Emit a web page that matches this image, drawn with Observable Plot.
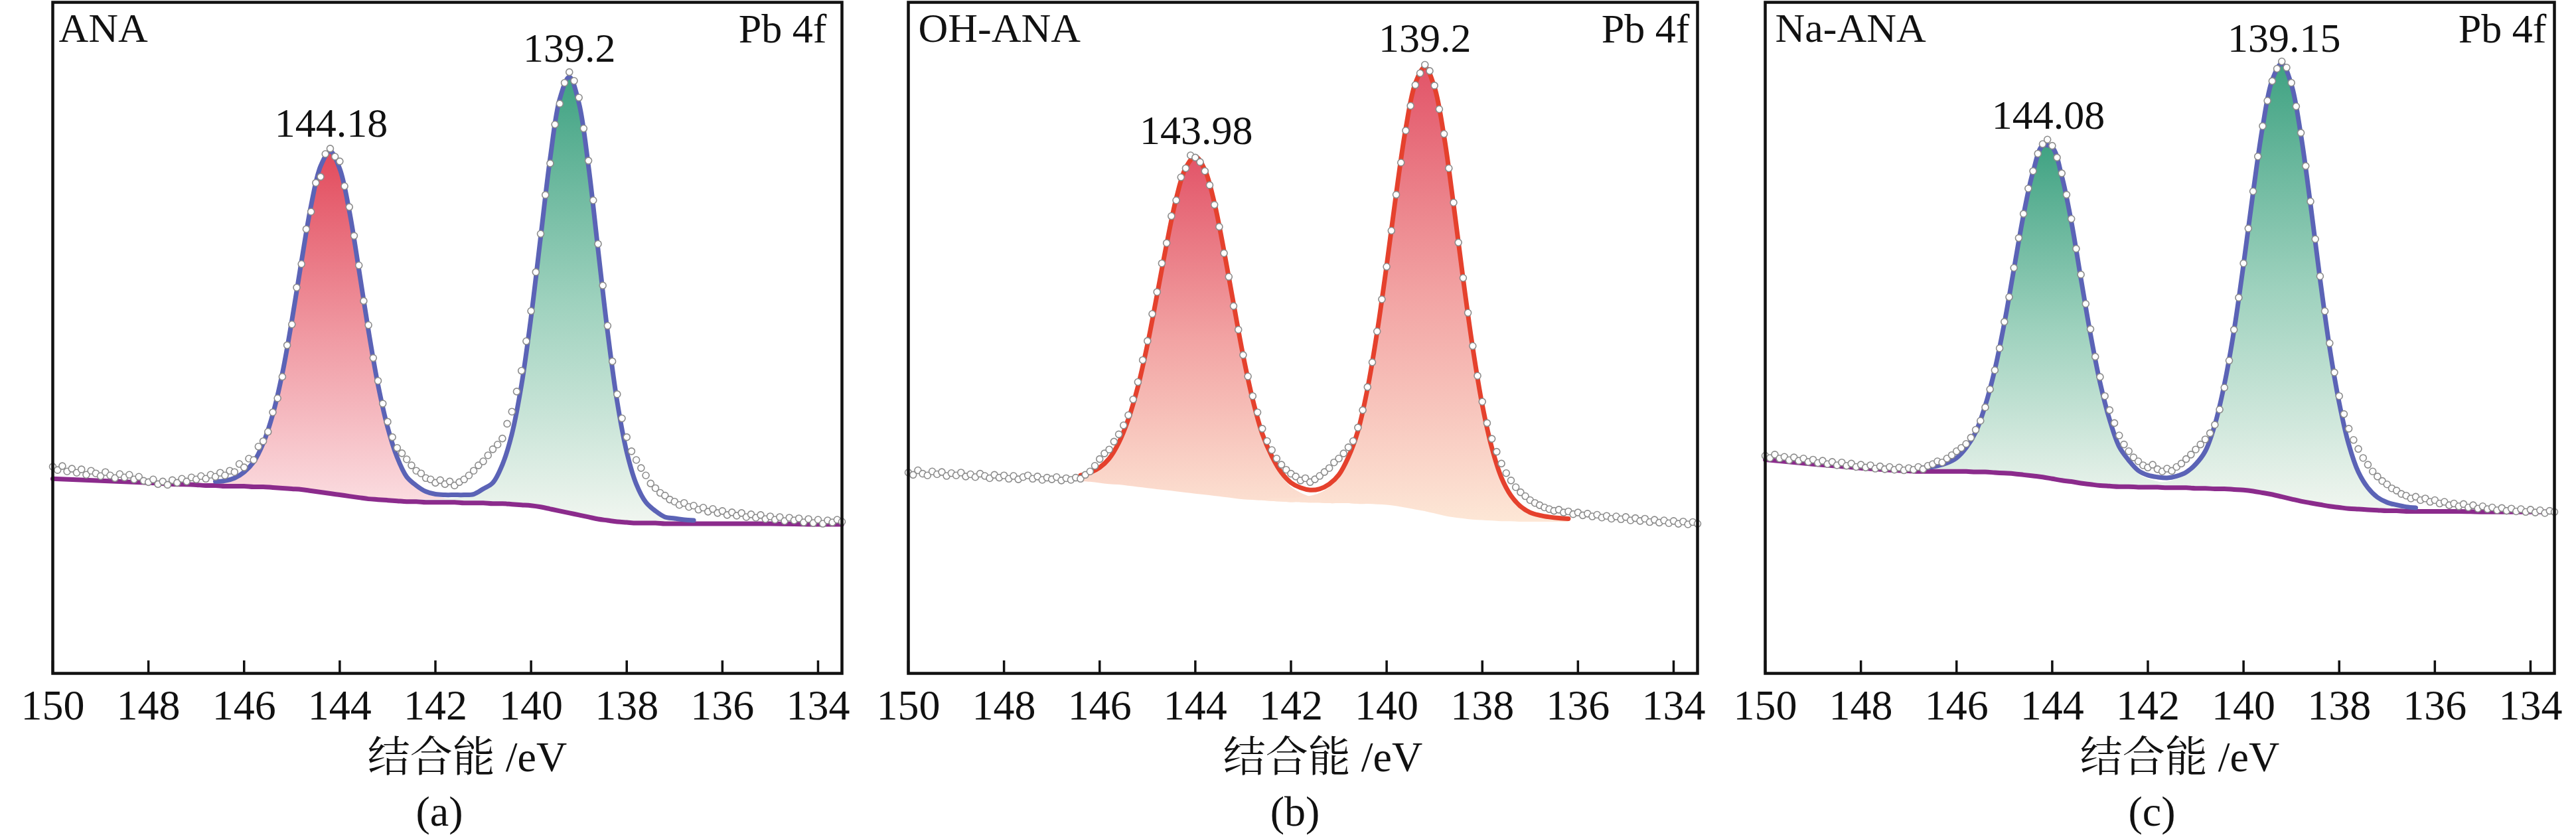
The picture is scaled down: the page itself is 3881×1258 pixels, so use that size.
<!DOCTYPE html>
<html><head><meta charset="utf-8">
<script src="https://cdn.jsdelivr.net/npm/d3@7"></script>
<script src="https://cdn.jsdelivr.net/npm/@observablehq/plot@0.6"></script>
<style>
html,body{margin:0;padding:0;background:#fff;}
#row{display:flex;flex-direction:row;width:3881px;height:1258px;overflow:hidden;}
#row svg{display:block;flex:none;}
</style></head><body><div id="row"></div>
<script>
// ---------- axis ticks / texts ----------
const xTicks = [150, 148, 146, 144, 142, 140, 138, 136, 134];
const axisTitle = "结合能 /eV";
const lineLabel = "Pb 4f";
const sampleNames = ["ANA", "OH-ANA", "Na-ANA"];
const captions = ["(a)", "(b)", "(c)"];
const peakLabelsA = ["144.18", "139.2"];
const peakLabelsB = ["143.98", "139.2"];
const peakLabelsC = ["144.08", "139.15"];
const peakTopsA = [78.0, 89.2];
const peakTopsB = [72.5, 88.9];
const peakTopsC = [75.2, 88.9];

// ---------- fit grid (binding energy, eV) ----------
const energyGrid = [
  150, 149, 148, 147.5,
  147.0, 146.8, 146.6, 146.4, 146.2, 146.0, 145.8, 145.6, 145.4, 145.2,
  145.0, 144.8, 144.6, 144.4, 144.2, 144.0, 143.8, 143.6, 143.4, 143.2,
  143.0, 142.8, 142.6, 142.4, 142.2, 142.0, 141.8, 141.6, 141.4, 141.2,
  141.0, 140.8, 140.6, 140.4, 140.2, 140.0, 139.8, 139.6, 139.4, 139.2,
  139.0, 138.8, 138.6, 138.4, 138.2, 138.0, 137.8, 137.6, 137.4, 137.2,
  137.0, 136.8, 136.6, 136.4, 136.2, 136.0,
  135.5, 135, 134, 133.5
];

// background (Shirley) and fitted components, panel (a)
const bgA = [
  29.0, 28.7, 28.4, 28.2,
  28.1, 28.0, 28.0, 27.9, 27.9, 27.9, 27.8, 27.8, 27.7, 27.6,
  27.5, 27.4, 27.2, 27.0, 26.8, 26.6, 26.4, 26.2, 26.0, 25.9,
  25.8, 25.7, 25.6, 25.6, 25.5, 25.5, 25.5, 25.5, 25.4, 25.4,
  25.4, 25.3, 25.3, 25.2, 25.1, 25.0, 24.8, 24.5, 24.2, 23.9,
  23.6, 23.3, 23.0, 22.8, 22.6, 22.5, 22.4, 22.4, 22.4, 22.3,
  22.3, 22.3, 22.3, 22.3, 22.3, 22.3,
  22.3, 22.3, 22.2, 22.2
];
const peakA1 = [
  0, 0, 0, 0,
  0.4, 0.5, 0.6, 0.8, 1.2, 2.1, 3.7, 6.5, 10.9, 17.1,
  25.1, 34.0, 42.5, 48.6, 51.0, 48.6, 42.5, 34.0, 25.1, 17.1,
  10.9, 6.5, 3.7, 2.1, 1.2, 0.8, 0.6, 0.5, 0.4, 0.3,
  0.3, 0, 0, 0, 0, 0, 0, 0, 0, 0,
  0, 0, 0, 0, 0, 0, 0, 0, 0, 0,
  0, 0, 0, 0, 0, 0,
  0, 0, 0, 0
];
const peakA2 = [
  0, 0, 0, 0,
  0, 0, 0, 0, 0, 0, 0, 0, 0, 0,
  0, 0, 0, 0, 0, 0, 0, 0, 0, 0,
  0, 0, 0, 0.3, 0.4, 0.4, 0.5, 0.6, 0.8, 1.0,
  1.8, 3.1, 5.8, 10.5, 17.9, 28.1, 40.2, 52.3, 61.4, 65.0,
  61.4, 52.3, 40.2, 28.1, 17.9, 10.5, 5.8, 3.1, 1.8, 1.0,
  0.8, 0.6, 0.5, 0.4, 0.4, 0.3,
  0, 0, 0, 0
];

// panel (b)
const bgB = [
  16.0, 15.7, 15.4, 15.2,
  15.0, 14.95, 14.9, 14.8, 14.7, 14.5, 14.3, 14.2, 14.0, 13.8,
  13.6, 13.4, 13.2, 13.0, 12.8, 12.6, 12.4, 12.2, 12.0, 11.8,
  11.6, 11.5, 11.4, 11.3, 11.2, 11.1, 11.1, 11.0, 11.0, 10.9,
  10.9, 10.9, 10.8, 10.8, 10.7, 10.6, 10.4, 10.1, 9.8, 9.5,
  9.1, 8.7, 8.4, 8.2, 8.0, 7.9, 7.8, 7.7, 7.7, 7.6,
  7.6, 7.6, 7.6, 7.6, 7.6, 7.6,
  7.5, 7.5, 7.4, 7.4
];
const peakB1 = [
  0, 0, 0, 0,
  0.5, 0.65, 0.8, 1.1, 1.7, 2.8, 4.6, 7.5, 11.9, 17.9,
  25.6, 34.6, 43.8, 52.1, 57.8, 60.0, 57.8, 52.1, 43.8, 34.6,
  25.6, 17.9, 11.9, 7.5, 4.6, 2.8, 1.7, 1.1, 0.8, 0.65,
  0.5, 0.45, 0, 0, 0, 0, 0, 0, 0, 0,
  0, 0, 0, 0, 0, 0, 0, 0, 0, 0,
  0, 0, 0, 0, 0, 0,
  0, 0, 0, 0
];
const peakB2 = [
  0, 0, 0, 0,
  0, 0, 0, 0, 0, 0, 0, 0, 0, 0,
  0, 0, 0, 0, 0, 0, 0, 0, 0, 0,
  0, 0, 0, 0.5, 0.6, 0.7, 0.9, 1.2, 1.7, 2.8,
  4.6, 7.8, 13.0, 20.5, 30.6, 42.6, 55.6, 67.5, 75.8, 79.0,
  75.8, 67.5, 55.6, 42.6, 30.6, 20.5, 13.0, 7.8, 4.6, 2.8,
  1.7, 1.2, 0.9, 0.7, 0.6, 0.5,
  0, 0, 0, 0
];

// panel (c)
const bgC = [
  18.7, 17.9, 17.2, 16.9,
  16.7, 16.6, 16.6, 16.6, 16.6, 16.6, 16.6, 16.5, 16.5, 16.4,
  16.3, 16.2, 16.0, 15.8, 15.6, 15.3, 15.0, 14.8, 14.5, 14.3,
  14.1, 14.0, 13.9, 13.9, 13.8, 13.8, 13.8, 13.7, 13.7, 13.7,
  13.6, 13.6, 13.5, 13.5, 13.4, 13.3, 13.1, 12.8, 12.5, 12.1,
  11.7, 11.3, 11.0, 10.7, 10.4, 10.2, 10.0, 9.9, 9.8, 9.7,
  9.6, 9.6, 9.5, 9.5, 9.5, 9.5,
  9.5, 9.4, 9.4, 9.4
];
const peakC1 = [
  0, 0, 0, 0,
  0.46, 0.57, 0.7, 1.0, 1.5, 2.4, 4.2, 7.1, 11.8, 18.3,
  26.7, 36.4, 46.2, 54.1, 58.9, 58.9, 54.1, 46.2, 36.4, 26.7,
  18.3, 11.8, 7.1, 4.2, 2.4, 1.5, 1.0, 0.7, 0.57, 0.46,
  0.4, 0, 0, 0, 0, 0, 0, 0, 0, 0,
  0, 0, 0, 0, 0, 0, 0, 0, 0, 0,
  0, 0, 0, 0, 0, 0,
  0, 0, 0, 0
];
const peakC2 = [
  0, 0, 0, 0,
  0, 0, 0, 0, 0, 0, 0, 0, 0, 0,
  0, 0, 0, 0, 0, 0, 0, 0, 0, 0,
  0, 0, 0, 0.48, 0.55, 0.64, 0.8, 1.05, 1.5, 2.3,
  3.9, 6.6, 11.4, 18.6, 28.2, 40.1, 53.1, 65.1, 73.7, 77.0,
  73.7, 65.1, 53.1, 40.1, 28.2, 18.6, 11.4, 6.6, 3.9, 2.3,
  1.5, 1.05, 0.8, 0.64, 0.55, 0.48,
  0, 0, 0, 0
];

// ---------- measured spectra (open circles) ----------
const dotEnergy = [
  150, 149.9, 149.8, 149.7, 149.6, 149.5, 149.4, 149.3, 149.2, 149.1,
  149, 148.9, 148.8, 148.7, 148.6, 148.5, 148.4, 148.3, 148.2, 148.1,
  148, 147.9, 147.8, 147.7, 147.6, 147.5, 147.4, 147.3, 147.2, 147.1,
  147, 146.9, 146.8, 146.7, 146.6, 146.5, 146.4, 146.3, 146.2, 146.1,
  146, 145.9, 145.8, 145.7, 145.6, 145.5, 145.4, 145.3, 145.2, 145.1,
  145, 144.9, 144.8, 144.7, 144.6, 144.5, 144.4, 144.3, 144.2, 144.1,
  144, 143.9, 143.8, 143.7, 143.6, 143.5, 143.4, 143.3, 143.2, 143.1,
  143, 142.9, 142.8, 142.7, 142.6, 142.5, 142.4, 142.3, 142.2, 142.1,
  142, 141.9, 141.8, 141.7, 141.6, 141.5, 141.4, 141.3, 141.2, 141.1,
  141, 140.9, 140.8, 140.7, 140.6, 140.5, 140.4, 140.3, 140.2, 140.1,
  140, 139.9, 139.8, 139.7, 139.6, 139.5, 139.4, 139.3, 139.2, 139.1,
  139, 138.9, 138.8, 138.7, 138.6, 138.5, 138.4, 138.3, 138.2, 138.1,
  138, 137.9, 137.8, 137.7, 137.6, 137.5, 137.4, 137.3, 137.2, 137.1,
  137, 136.9, 136.8, 136.7, 136.6, 136.5, 136.4, 136.3, 136.2, 136.1,
  136, 135.9, 135.8, 135.7, 135.6, 135.5, 135.4, 135.3, 135.2, 135.1,
  135, 134.9, 134.8, 134.7, 134.6, 134.5, 134.4, 134.3, 134.2, 134.1,
  134, 133.9, 133.8, 133.7, 133.6, 133.5
];
const dotsA = [
  30.8, 30.3, 30.9, 30.1, 30.5, 29.9, 30.4, 29.6, 30.2, 29.8,
  29.4, 30.0, 29.5, 29.1, 29.7, 29.2, 29.6, 28.9, 29.3, 28.7,
  28.5, 28.9, 28.2, 28.6, 28.1, 28.8, 28.4, 29.0, 28.6, 29.2,
  28.9, 29.4, 29.0, 29.6, 29.3, 29.9, 29.5, 30.2, 30.0, 31.2,
  30.7, 32.0, 31.8, 33.8, 34.6, 36.0, 38.9, 41.0, 44.2, 48.9,
  52.0, 57.5, 61.0, 66.2, 68.8, 73.1, 74.0, 77.4, 78.2, 77.0,
  76.3, 72.6, 69.5, 65.2, 60.8, 55.5, 51.9, 47.0, 43.6, 40.2,
  37.5, 35.2, 33.6, 32.8, 31.9, 31.0, 30.2, 29.8, 29.1, 28.9,
  28.4, 28.8, 28.2, 28.6, 28.0, 28.5, 28.9, 29.5, 30.2, 31.0,
  31.6, 32.5, 33.4, 34.1, 35.0, 37.2, 39.0, 42.0, 45.1, 49.5,
  54.0, 59.8, 65.5, 71.3, 76.0, 81.8, 84.9, 88.0, 89.6, 88.3,
  85.8, 81.2, 76.4, 70.5, 64.0, 57.8, 51.8, 46.5, 41.6, 38.0,
  35.2, 33.1, 31.8, 30.6, 29.5, 28.3, 27.6, 26.9, 26.5, 25.9,
  25.6, 25.1, 25.4, 24.8, 25.0, 24.4, 24.7, 24.1, 24.5, 23.9,
  24.2, 23.6, 24.0, 23.5, 23.9, 23.3, 23.7, 23.2, 23.6, 23.0,
  23.4, 22.9, 23.3, 22.7, 23.2, 22.8, 23.1, 22.5, 23.0, 22.4,
  22.9, 22.3, 22.8, 22.5, 22.9, 22.6
];
const dotsB = [
  16.4, 16.0, 16.8, 16.2, 15.9, 16.6, 16.1, 16.5, 15.8, 16.3,
  15.9, 16.4, 15.7, 16.1, 15.6, 16.2, 15.8, 15.4, 16.0, 15.5,
  15.9, 15.3, 15.8, 15.2, 15.6, 15.9, 15.3, 15.7, 15.1, 15.5,
  15.2, 15.6, 15.0, 15.4, 15.1, 15.5, 15.3, 16.0, 16.6, 17.6,
  18.8, 19.8, 20.5, 21.9, 23.2, 24.8, 26.6, 29.4, 32.5, 36.4,
  39.8, 44.6, 48.5, 53.6, 57.2, 62.0, 64.8, 68.9, 70.5, 72.8,
  72.4, 71.6, 70.0, 67.5, 64.0, 60.1, 55.4, 51.2, 46.0, 41.8,
  37.3, 33.5, 30.0, 27.1, 24.2, 22.0, 20.4, 18.9, 17.8, 16.9,
  16.2, 15.7, 15.0, 15.4, 14.7, 15.2, 15.8, 16.5, 17.2, 18.2,
  18.9, 19.8, 20.9, 22.0, 24.4, 27.5, 31.6, 36.0, 41.5, 47.2,
  53.0, 59.4, 65.8, 71.5, 77.2, 81.6, 85.3, 87.4, 88.9, 87.8,
  85.2, 81.0, 76.6, 70.5, 64.4, 57.3, 51.0, 44.8, 38.9, 33.6,
  29.0, 25.2, 22.4, 20.1, 18.0, 16.3, 15.0, 13.8, 12.9, 12.2,
  11.5, 11.0, 10.6, 10.2, 9.9, 9.6, 9.8, 9.3, 9.5, 9.0,
  9.3, 8.8, 9.1, 8.6, 8.9, 8.4, 8.7, 8.2, 8.6, 8.1,
  8.5, 7.9, 8.3, 7.8, 8.2, 7.6, 8.0, 7.5, 7.9, 7.4,
  7.8, 7.3, 7.7, 7.2, 7.6, 7.3
];
const dotsC = [
  19.4, 19.0, 19.6, 18.9, 19.2, 18.6, 19.1, 18.5, 18.9, 18.3,
  18.7, 18.1, 18.5, 17.9, 18.3, 17.7, 18.2, 17.6, 18.0, 17.4,
  17.8, 17.3, 17.7, 17.1, 17.5, 17.0, 17.4, 16.9, 17.3, 16.8,
  17.2, 16.9, 17.4, 17.0, 17.6, 17.9, 18.4, 18.2, 18.9, 19.5,
  20.2, 20.8, 21.5, 22.6, 24.0, 25.6, 28.0, 31.2, 34.6, 38.5,
  43.2, 47.6, 52.8, 58.1, 62.4, 66.9, 70.0, 73.1, 74.8, 75.6,
  74.5, 72.4, 69.6, 65.8, 61.5, 56.2, 51.6, 46.4, 41.9, 37.0,
  33.4, 30.0, 27.5, 25.2, 23.0, 21.4, 20.2, 19.1, 18.4, 17.7,
  17.3, 17.8, 17.0, 16.6, 17.1, 16.7, 17.4, 18.0, 18.8, 19.6,
  20.5, 21.4, 22.3, 23.4, 24.9, 27.6, 31.5, 36.3, 41.8, 47.5,
  53.6, 59.8, 66.4, 72.6, 78.0, 82.5, 86.0, 88.2, 89.5, 88.4,
  85.7, 81.5, 76.8, 70.9, 64.6, 57.9, 51.3, 45.1, 39.4, 34.2,
  30.0, 26.8, 24.2, 22.2, 20.6, 19.0, 17.8, 16.6, 15.7, 14.9,
  14.3, 13.6, 13.2, 12.6, 12.3, 11.8, 12.1, 11.5, 11.8, 11.2,
  11.5, 10.9, 11.2, 10.6, 10.9, 10.4, 10.8, 10.2, 10.6, 10.0,
  10.4, 9.9, 10.2, 9.7, 10.1, 9.6, 10.0, 9.5, 9.9, 9.4,
  9.8, 9.3, 9.7, 9.2, 9.6, 9.4
];

// ---------- styles ----------
const FONT = "'Liberation Serif','Times New Roman','Noto Serif CJK SC','Noto Sans CJK SC',serif";
const GRAD_RED = [[0, "#E24A5C"], [0.5, "#F09AA3"], [1, "#FCE5E8"]];
const GRAD_GREEN = [[0, "#3FA282"], [0.5, "#9DD1BD"], [1, "#F1F6F0"]];
const GRAD_PEACH = [[0, "#E25468"], [0.5, "#F2A3A3"], [1, "#FDE7D6"]];

// each panel keeps its own arbitrary-unit intensity scale
const panels = [
  {id: "pa", width: 1318, ml: 79, mr: 50, yDomain: [0, 100], bg: bgA, p1: peakA1, p2: peakA2, dots: dotsA,
   labels: peakLabelsA, tops: peakTopsA, fit: [146.6, 136.6], env: "#5B63B6", bgLine: true,
   g1: GRAD_RED, g2: GRAD_GREEN, name: sampleNames[0], nameDx: 9, pbDx: -23, cap: captions[0]},
  {id: "pb", width: 1289, ml: 50, mr: 50, yDomain: [-19.3, 100], bg: bgB, p1: peakB1, p2: peakB2, dots: dotsB,
   labels: peakLabelsB, tops: peakTopsB, fit: [146.4, 136.2], env: "#E5412D", bgLine: false,
   g1: GRAD_PEACH, g2: GRAD_PEACH, name: sampleNames[1], nameDx: 15, pbDx: -12, cap: captions[1]},
  {id: "pc", width: 1274, ml: 52, mr: 33, yDomain: [-19.3, 100], bg: bgC, p1: peakC1, p2: peakC2, dots: dotsC,
   labels: peakLabelsC, tops: peakTopsC, fit: [146.8, 136.4], env: "#5B63B6", bgLine: true,
   g1: GRAD_GREEN, g2: GRAD_GREEN, name: sampleNames[2], nameDx: 15, pbDx: -12, cap: captions[2]}
];

function addGradient(svg, id, stops) {
  const s = d3.select(svg);
  let defs = s.select("defs");
  if (defs.empty()) defs = s.insert("defs", ":first-child");
  const g = defs.append("linearGradient").attr("id", id)
    .attr("x1", 0).attr("y1", 0).attr("x2", 0).attr("y2", 1);
  stops.forEach(([o, c]) => g.append("stop").attr("offset", o).attr("stop-color", c));
}

function makePanel(p) {
  const grid = energyGrid.map((e, i) => ({
    e, bg: p.bg[i], top1: p.bg[i] + p.p1[i], top2: p.bg[i] + p.p2[i],
    env: p.bg[i] + p.p1[i] + p.p2[i]
  }));
  const fit = grid.filter(d => d.e <= p.fit[0] && d.e >= p.fit[1]);
  const dots = dotEnergy.map((e, i) => ({e, v: p.dots[i]}));
  const labels = p.labels.map((t, i) => ({e: +t, v: p.tops[i], t}));
  const svg = Plot.plot({
    width: p.width, height: 1258,
    marginLeft: p.ml, marginRight: p.mr, marginTop: 3, marginBottom: 244,
    x: {domain: [150, 133.5], label: null},
    y: {domain: p.yDomain, axis: null},
    style: {fontFamily: FONT, fontSize: "64px", color: "#111", background: "#fff", overflow: "visible"},
    marks: [
      Plot.areaY(fit, {x: "e", y1: "bg", y2: "top1", fill: `url(#${p.id}g1)`, curve: "catmull-rom"}),
      Plot.areaY(fit, {x: "e", y1: "bg", y2: "top2", fill: `url(#${p.id}g2)`, curve: "catmull-rom"}),
      p.bgLine ? Plot.line(grid, {x: "e", y: "bg", stroke: "#8B2B8C", strokeWidth: 7, curve: "monotone-x"}) : null,
      Plot.line(fit, {x: "e", y: "env", stroke: p.env, strokeWidth: 7, curve: "catmull-rom"}),
      Plot.dot(dots, {x: "e", y: "v", r: 5, fill: "#fff", stroke: "#8c8c8c", strokeWidth: 1.6}),
      Plot.ruleX(xTicks, {stroke: "#111", strokeWidth: 3.5, insetTop: 1011 - 19}),
      Plot.frame({stroke: "#111", strokeWidth: 4.5}),
      Plot.axisX(xTicks, {anchor: "bottom", tickSize: 0, tickPadding: 24, label: null, fontSize: 64}),
      Plot.text(labels, {x: "e", y: "v", text: "t", dy: -20, lineAnchor: "bottom", fontSize: 62, fill: "#111"}),
      Plot.text([p.name], {text: d => d, frameAnchor: "top-left", textAnchor: "start", lineAnchor: "bottom",
        dx: p.nameDx, dy: 59, fontSize: 62, fill: "#111"}),
      Plot.text([lineLabel], {text: d => d, frameAnchor: "top-right", textAnchor: "end", lineAnchor: "bottom",
        dx: p.pbDx, dy: 60, fontSize: 62, fill: "#111"}),
      Plot.text([axisTitle], {text: d => d, frameAnchor: "bottom", lineAnchor: "bottom",
        dx: 30, dy: 147, fontSize: 64, fill: "#111"}),
      Plot.text([p.cap], {text: d => d, frameAnchor: "bottom", lineAnchor: "bottom",
        dx: -12, dy: 229, fontSize: 64, fill: "#111"})
    ]
  });
  addGradient(svg, p.id + "g1", p.g1);
  addGradient(svg, p.id + "g2", p.g2);
  return svg;
}

const row = document.getElementById("row");
panels.forEach(p => row.appendChild(makePanel(p)));
</script>
</body></html>
